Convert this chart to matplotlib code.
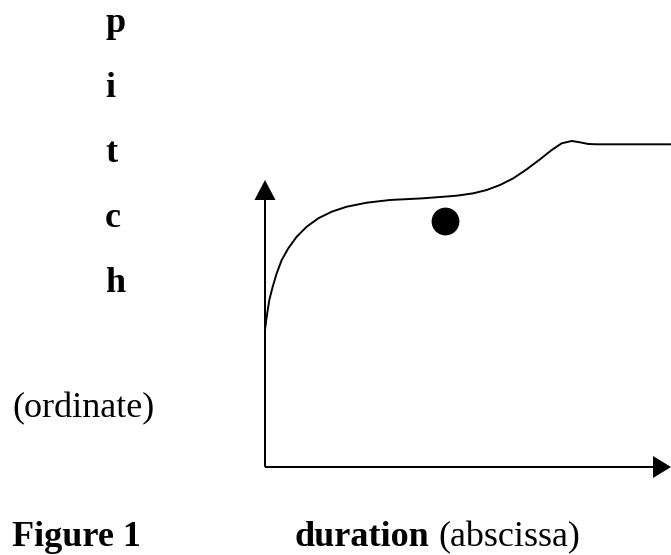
import matplotlib.pyplot as plt

# pitch contour (duration / pitch in pixel-ish units from the axis corner)
duration = [0, 1.7, 4.3, 7.7, 11.7, 16.7, 23.3, 31.7, 41.7, 53.3, 66.7, 81.7, 101.7, 125,
            158.3, 191.7, 208.3, 221.7, 235, 248.3, 261.7, 275, 286.7, 296.7, 306.7, 315,
            323.3, 331.7, 405]
pitch = [137, 150.3, 167, 180.3, 193.7, 207, 218.7, 230.3, 240.3, 248.7, 255.3, 260.3, 264.3, 267,
         268.7, 271.3, 273.7, 277, 282, 288.7, 297.7, 307.7, 317, 323.7, 326, 324.7,
         323, 322.7, 322.7]

# the single dot
dot_duration = [180]
dot_pitch = [246]

# arrow lengths
x_axis_len = 406
y_axis_len = 287

pitch_letters = ['p', 'i', 't', 'c', 'h']

W, H = 671, 555
fig = plt.figure(figsize=(W / 100, H / 100), dpi=100)
ax = fig.add_axes([265 / W, 88 / H, 406 / W, 337 / H])
ax.set_xlim(0, 406)
ax.set_ylim(0, 337)
ax.axis('off')

ax.arrow(0, 0, 0, y_axis_len, width=2, head_width=21, head_length=20,
         length_includes_head=True, color='black', lw=0, clip_on=False)
ax.arrow(0, 0, x_axis_len, 0, width=2, head_width=22, head_length=18,
         length_includes_head=True, color='black', lw=0, clip_on=False)

ax.plot(duration, pitch, color='black', lw=1.4, solid_joinstyle='round', clip_on=False)
ax.plot(dot_duration, dot_pitch, 'o', color='black', ms=19, clip_on=False)

font = 'Liberation Serif'
fs = 26
for i, ch in enumerate(pitch_letters):
    fig.text(105 / W, 1 - (32 + 65 * i) / H, ch, fontsize=fs, fontweight='bold',
             family=font, va='baseline', ha='left')

fig.text(12 / W, 1 - 417 / H, '(ordinate)', fontsize=fs, family=font, va='baseline')
fig.text(12 / W, 1 - 546 / H, 'Figure 1', fontsize=fs, fontweight='bold',
         family=font, va='baseline')
t = fig.text(295 / W, 1 - 546 / H, 'duration', fontsize=fs, fontweight='bold',
             family=font, va='baseline')

# put (abscissa) one space after the bold word
fig.canvas.draw()
bb = t.get_window_extent()
fig.text((bb.x1 + 9) / W, 1 - 546 / H, '(abscissa)', fontsize=fs, family=font, va='baseline')

fig.savefig('out.png', dpi=100)
